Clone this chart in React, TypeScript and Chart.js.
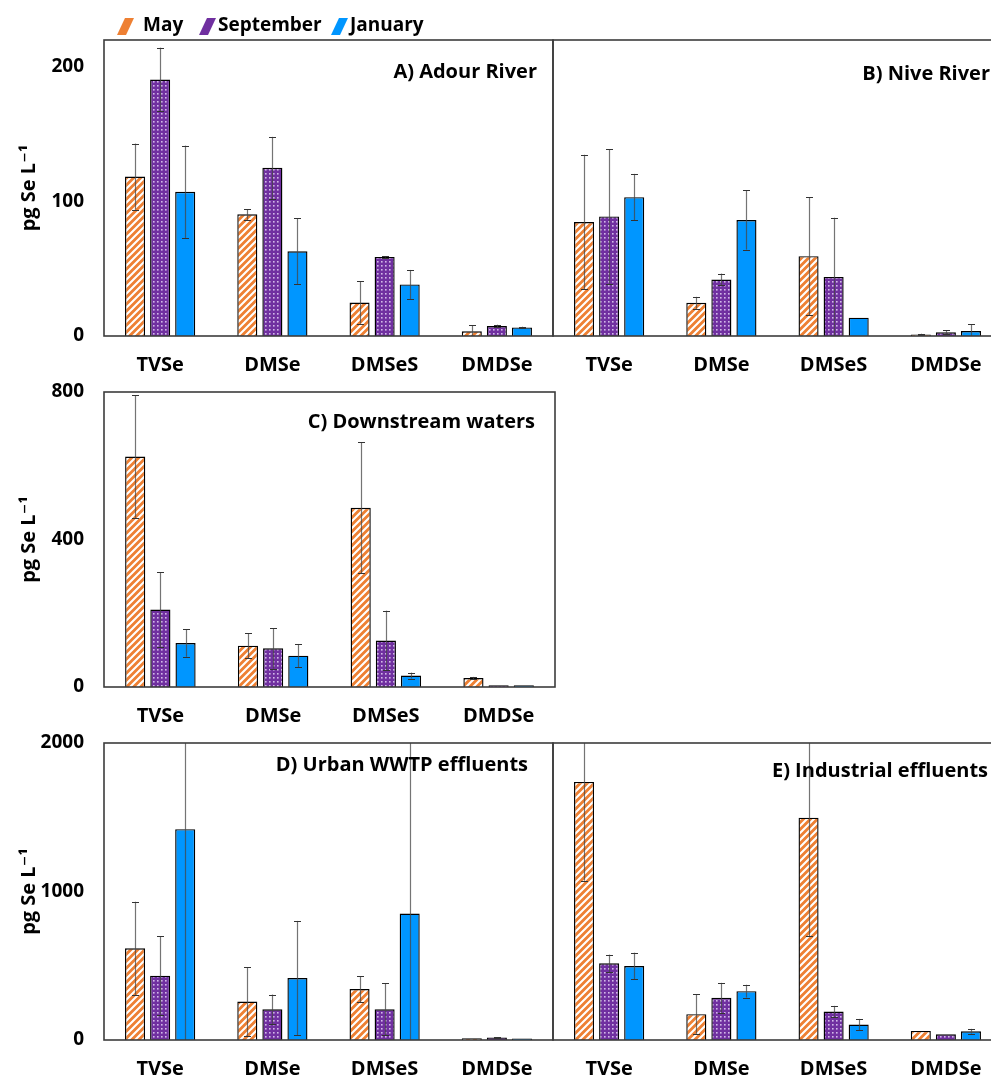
import React, { useEffect, useRef } from 'react';
import { Chart, registerables } from 'chart.js';

Chart.register(...registerables);

// ---------------- data ----------------
const categories = ['TVSe', 'DMSe', 'DMSeS', 'DMDSe'];
const seriesNames = ['May', 'September', 'January'];
const panelTitles = ['A) Adour River', 'B) Nive River', 'C) Downstream waters', 'D) Urban WWTP effluents', 'E) Industrial effluents'];
const yAxisTitle = 'pg Se L\u207B\u00B9';

const ticksAB = [0, 100, 200];
const ticksC = [0, 400, 800];
const ticksDE = [0, 1000, 2000];
const maxAB = 220;
const maxC = 800;
const maxDE = 2000;

// A) Adour River
const adourMay = [118.5, 90.4, 24.9, 3.5];
const adourSep = [190.6, 125, 58.8, 7.4];
const adourJan = [107.2, 63, 38.3, 6.4];
const adourMayErr = [24.5, 4, 15.7, 4.4];
const adourSepErr = [23.7, 23, 0.5, 1];
const adourJanErr = [34.3, 24.7, 10.8, 0.5];

// B) Nive River
const niveMay = [84.7, 24.7, 59.3, 1.2];
const niveSep = [88.9, 42, 43.9, 2.7];
const niveJan = [103.2, 86.2, 13.6, 3.7];
const niveMayErr = [50, 4.4, 44, 0.5];
const niveSepErr = [50, 4.4, 44, 1.5];
const niveJanErr = [17.3, 22, 0, 5];

// C) Downstream waters
const downMay = [625, 112, 486, 24.4];
const downSep = [210, 105, 126, 4.5];
const downJan = [119, 85, 31, 4.5];
const downMayErr = [166, 33.5, 178, 3];
const downSepErr = [101, 55, 81, 0];
const downJanErr = [37, 31.7, 8, 0];

// D) Urban WWTP effluents
const urbanMay = [618, 259, 343, 12];
const urbanSep = [433, 207, 207, 16];
const urbanJan = [1420, 417, 852, 10];
const urbanMayErr = [313, 231, 88, 0];
const urbanSepErr = [264, 99, 174, 4];
const urbanJanErr = [1500, 385, 1200, 0];

// E) Industrial effluents
const indMay = [1738, 174, 1497, 61];
const indSep = [516, 284, 192, 38];
const indJan = [498, 329, 104, 59];
const indMayErr = [665, 133, 798, 0];
const indSepErr = [59, 101, 38, 0];
const indJanErr = [90, 43, 38, 16];

// ---------------- styles ----------------
const FONT = "'Open Sans', 'DejaVu Sans', sans-serif";
const ORANGE = '#EE8033';
const PURPLE = '#7030A0';
const BLUE = '#0096FF';
const BOX = '#3c3c3c';

function stripePattern(ctx: CanvasRenderingContext2D) {
  const s = 7;
  const c = document.createElement('canvas');
  c.width = s; c.height = s;
  const g = c.getContext('2d')!;
  g.fillStyle = ORANGE; g.fillRect(0, 0, s, s);
  g.strokeStyle = '#ffffff'; g.lineWidth = 2.1;
  g.beginPath();
  for (const k of [0, s, 2 * s]) { g.moveTo(k + 1, -1); g.lineTo(-1, k + 1); }
  g.stroke();
  return ctx.createPattern(c, 'repeat')!;
}

function dotPattern(ctx: CanvasRenderingContext2D) {
  const s = 4;
  const c = document.createElement('canvas');
  c.width = s; c.height = s;
  const g = c.getContext('2d')!;
  g.fillStyle = PURPLE; g.fillRect(0, 0, s, s);
  g.fillStyle = 'rgba(235,220,250,0.8)';
  g.fillRect(1, 1, 1.6, 1.6);
  return ctx.createPattern(c, 'repeat')!;
}

const errorPlugin = {
  id: 'errorBars',
  afterDatasetsDraw(chart: any) {
    const { ctx, chartArea: a, scales } = chart;
    const y = scales.y;
    ctx.save();
    ctx.beginPath();
    ctx.rect(a.left, a.top, a.right - a.left, a.bottom - a.top);
    ctx.clip();
    chart.data.datasets.forEach((ds: any, i: number) => {
      const meta = chart.getDatasetMeta(i);
      meta.data.forEach((bar: any, j: number) => {
        const e = ds.errors[j];
        if (!e) return;
        const v = ds.data[j];
        const yt = y.getPixelForValue(v + e);
        const yb = y.getPixelForValue(v - e);
        const x = Math.round(bar.x) + 0.5;
        ctx.strokeStyle = 'rgba(70,70,70,0.75)';
        ctx.lineWidth = 1.2;
        ctx.beginPath(); ctx.moveTo(x, yt); ctx.lineTo(x, yb); ctx.stroke();
        ctx.strokeStyle = '#333';
        ctx.lineWidth = 1;
        ctx.beginPath();
        ctx.moveTo(x - 3.5, Math.round(yt) + 0.5); ctx.lineTo(x + 3.5, Math.round(yt) + 0.5);
        ctx.moveTo(x - 3.5, Math.round(yb) + 0.5); ctx.lineTo(x + 3.5, Math.round(yb) + 0.5);
        ctx.stroke();
      });
    });
    ctx.restore();
  },
};

const boxPlugin = {
  id: 'panelBox',
  afterDraw(chart: any) {
    const { ctx, chartArea: a } = chart;
    const o = chart.options.plugins.panelBox;
    ctx.save();
    ctx.strokeStyle = BOX;
    ctx.lineWidth = 1.6;
    ctx.strokeRect(a.left, a.top, a.right - a.left, a.bottom - a.top);
    ctx.fillStyle = '#000';
    ctx.font = `bold 20px ${FONT}`;
    ctx.textAlign = 'right';
    ctx.textBaseline = 'middle';
    ctx.fillText(o.title, a.right - o.dx, a.top + o.dy);
    if (o.legend) {
      const colors = [ORANGE, PURPLE, BLUE];
      const swX = [117, 199, 331];
      const txX = [143, 218, 350];
      ctx.font = `bold 19px ${FONT}`;
      ctx.textAlign = 'left';
      seriesNames.forEach((name, i) => {
        const x0 = swX[i];
        ctx.fillStyle = colors[i];
        ctx.beginPath();
        ctx.moveTo(x0, 35); ctx.lineTo(x0 + 8, 18); ctx.lineTo(x0 + 17, 18); ctx.lineTo(x0 + 9, 35);
        ctx.closePath(); ctx.fill();
        ctx.fillStyle = '#000';
        ctx.fillText(name, txX[i], 26);
      });
    }
    ctx.restore();
  },
};

type PanelCfg = {
  title: string; values: number[][]; errors: number[][]; ticks: number[]; max: number;
  showY: boolean; legend: boolean;
  left: number; top: number; width: number; height: number;
  padTop: number; padLeft: number; padRight: number; yW: number; xH: number; dx: number; dy: number;
};

const panels: PanelCfg[] = [
  { title: panelTitles[0], values: [adourMay, adourSep, adourJan], errors: [adourMayErr, adourSepErr, adourJanErr], ticks: ticksAB, max: maxAB, showY: true, legend: true,
    left: 0, top: 0, width: 556, height: 380, padTop: 40, padLeft: 0, padRight: 3, yW: 104, xH: 44, dx: 16, dy: 32 },
  { title: panelTitles[1], values: [niveMay, niveSep, niveJan], errors: [niveMayErr, niveSepErr, niveJanErr], ticks: ticksAB, max: maxAB, showY: false, legend: false,
    left: 551, top: 36, width: 454, height: 344, padTop: 4, padLeft: 2, padRight: 3, yW: 0, xH: 44, dx: 12, dy: 34 },
  { title: panelTitles[2], values: [downMay, downSep, downJan], errors: [downMayErr, downSepErr, downJanErr], ticks: ticksC, max: maxC, showY: true, legend: false,
    left: 0, top: 376, width: 558, height: 355, padTop: 16, padLeft: 0, padRight: 3, yW: 104, xH: 44, dx: 20, dy: 30 },
  { title: panelTitles[3], values: [urbanMay, urbanSep, urbanJan], errors: [urbanMayErr, urbanSepErr, urbanJanErr], ticks: ticksDE, max: maxDE, showY: true, legend: false,
    left: 0, top: 727, width: 556, height: 353, padTop: 16, padLeft: 0, padRight: 3, yW: 104, xH: 40, dx: 25, dy: 22 },
  { title: panelTitles[4], values: [indMay, indSep, indJan], errors: [indMayErr, indSepErr, indJanErr], ticks: ticksDE, max: maxDE, showY: false, legend: false,
    left: 551, top: 739, width: 454, height: 341, padTop: 4, padLeft: 2, padRight: 3, yW: 0, xH: 40, dx: 14, dy: 28 },
];

function Panel({ cfg }: { cfg: PanelCfg }) {
  const ref = useRef<HTMLCanvasElement>(null);
  useEffect(() => {
    const canvas = ref.current!;
    const ctx = canvas.getContext('2d')!;
    const fills: any[] = [stripePattern(ctx), dotPattern(ctx), BLUE];
    const chart = new Chart(canvas, {
      type: 'bar',
      data: {
        labels: categories,
        datasets: cfg.values.map((v, i) => ({
          label: seriesNames[i],
          data: v,
          errors: cfg.errors[i],
          backgroundColor: fills[i],
          borderColor: '#000',
          borderWidth: 1.4,
          categoryPercentage: 0.67,
          barPercentage: 0.8,
        })) as any,
      },
      options: {
        responsive: false,
        maintainAspectRatio: false,
        animation: false,
        layout: { padding: { top: cfg.padTop, left: cfg.padLeft, right: cfg.padRight, bottom: 0 } },
        plugins: {
          legend: { display: false },
          tooltip: { enabled: false },
          panelBox: { title: cfg.title, dx: cfg.dx, dy: cfg.dy, legend: cfg.legend },
        } as any,
        scales: {
          x: {
            grid: { display: false, drawTicks: false },
            border: { display: false },
            ticks: { color: '#000', padding: 17, font: { family: FONT, size: 20, weight: 'bold' } },
            afterFit: (s: any) => { s.height = cfg.xH; s.paddingLeft = 0; s.paddingRight = 0; },
          },
          y: {
            display: cfg.showY,
            min: 0,
            max: cfg.max,
            grid: { display: false, drawTicks: false },
            border: { display: false },
            afterBuildTicks: (s: any) => { s.ticks = cfg.ticks.map((v) => ({ value: v })); },
            ticks: { color: '#000', padding: 20, callback: (v: any) => String(v), font: { family: FONT, size: 19, weight: 'bold' } },
            title: { display: cfg.showY, text: yAxisTitle, color: '#000', padding: { top: 17, bottom: 0 }, font: { family: FONT, size: 20, weight: 'bold' } },
            afterFit: (s: any) => { s.width = cfg.yW; s.paddingTop = 0; s.paddingBottom = 0; },
          },
        },
      } as any,
      plugins: [errorPlugin, boxPlugin],
    });
    return () => chart.destroy();
  }, []);
  return (
    <canvas
      ref={ref}
      width={cfg.width}
      height={cfg.height}
      style={{ position: 'absolute', left: cfg.left, top: cfg.top, width: cfg.width, height: cfg.height }}
    />
  );
}

export default function App() {
  return (
    <div style={{ position: 'absolute', left: 0, top: 0, width: 991, height: 1080, overflow: 'hidden', background: '#fff' }}>
      {panels.map((p, i) => <Panel key={i} cfg={p} />)}
    </div>
  );
}
